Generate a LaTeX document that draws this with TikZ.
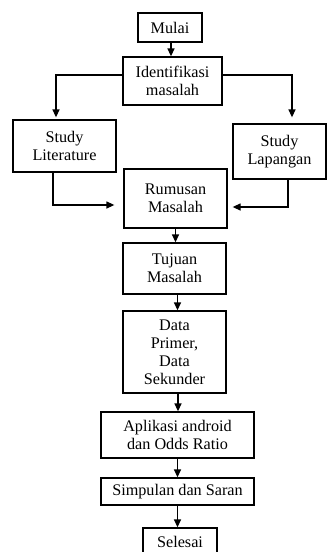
\documentclass[tikz,border=0pt]{standalone}
\usepackage{fontspec}
\setmainfont{Liberation Serif}
\usetikzlibrary{arrows.meta}

\begin{document}
\begin{tikzpicture}[
    x=1pt, y=-1pt,
    font=\fontsize{16.2}{18}\selectfont,
    >={Triangle[width=7pt,length=8pt]},
    box/.style={draw, line width=1.3pt, align=center, inner sep=0pt},
    flow/.style={->, line width=1.3pt}
]

    % Canvas
    \useasboundingbox (0,0) rectangle (327,552);

    % 1. Start and problem identification
    \node[box, minimum width=64pt, minimum height=29pt] (Mulai) at (170,27.5) {Mulai};
    \node[box, minimum width=99pt, minimum height=48pt] (Identifikasi) at (172.5,81) {Identifikasi\\masalah};

    % 2. Two studies
    \node[box, minimum width=103pt, minimum height=52pt] (StudyLit) at (64.5,146) {Study\\Literature};
    \node[box, minimum width=93pt, minimum height=55pt] (StudyLap) at (279.5,151.5) {Study\\Lapangan};

    % 3. Main column
    \node[box, minimum width=103pt, minimum height=59pt] (Rumusan) at (175.5,198.5) {Rumusan\\Masalah};
    \node[box, minimum width=103pt, minimum height=51pt] (Tujuan) at (174.5,268.5) {Tujuan\\Masalah};
    \node[box, minimum width=103pt, minimum height=82pt] (Data) at (174.5,352) {Data\\Primer,\\Data\\Sekunder};
    \node[box, minimum width=153pt, minimum height=46pt] (Aplikasi) at (177.5,435) {Aplikasi android\\dan Odds Ratio};
    \node[box, minimum width=153pt, minimum height=27pt] (Simpulan) at (177.5,491.5) {Simpulan dan Saran};
    \node[box, minimum width=74pt, minimum height=28pt] (Selesai) at (180,542) {Selesai};

    % 4. Connectors
    \draw[flow] ([xshift=1pt]Mulai.south) -- ([xshift=1pt]Mulai.south |- Identifikasi.north);
    \draw[flow, shorten >=2pt] ([yshift=6pt]Identifikasi.west) -| ([xshift=-8.5pt]StudyLit.north);
    \draw[flow, shorten >=6pt] ([yshift=6pt]Identifikasi.east) -| ([xshift=12.5pt]StudyLap.north);
    \draw[flow, shorten >=9pt] ([xshift=-11.5pt]StudyLit.south) |- ([yshift=-6.5pt]Rumusan.west);
    \draw[flow, shorten >=5pt] ([xshift=8.5pt]StudyLap.south) |- ([yshift=-8.5pt]Rumusan.east);
    \draw[flow] (Rumusan.south) -- (Rumusan.south |- Tujuan.north);
    \draw[flow] ([xshift=3pt]Tujuan.south) -- ([xshift=3pt]Tujuan.south |- Data.north);
    \draw[flow] ([xshift=3.5pt]Data.south) -- ([xshift=3.5pt]Data.south |- Aplikasi.north);
    \draw[flow] (Aplikasi.south) -- (Aplikasi.south |- Simpulan.north);
    \draw[flow] (Simpulan.south) -- (Simpulan.south |- Selesai.north);

\end{tikzpicture}
\end{document}
